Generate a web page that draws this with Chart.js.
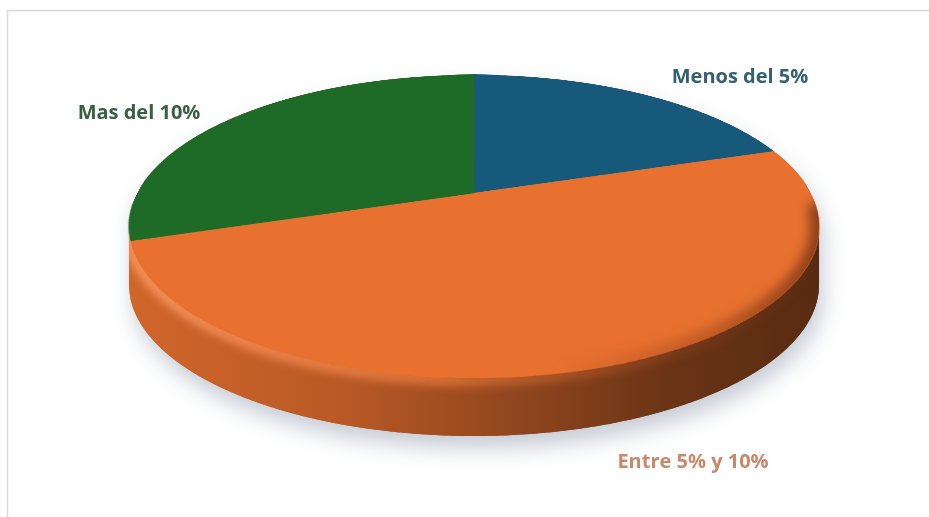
<!DOCTYPE html>
<html>
<head>
<meta charset="utf-8">
<title>Rentabilidad</title>
<script src="https://cdn.jsdelivr.net/npm/chart.js@4.4.1/dist/chart.umd.min.js"></script>
<style>
  html, body { margin: 0; padding: 0; background: #fff; }
  #view { display: block; }
  #flat { position: absolute; left: -3000px; top: 0; }
</style>
</head>
<body>
<canvas id="view" width="929" height="517"></canvas>
<div id="flat"><canvas id="pie" width="640" height="640"></canvas></div>
<script>
const categories = ['Menos del 5%', 'Entre 5% y 10%', 'Mas del 10%'];
const shares = [20, 50, 30];
const sliceColors = ['#16597b', '#e8712f', '#1d6b27'];
const labelColors = ['#35606f', '#c98869', '#395f41'];

// tilted disc: centre, radii, perspective factor, thickness
const tilt = { cx: 474, cy: 193, a: 336.5, b: 144.1, p: 0.221, depth: 58 };
const phiMin = Math.asin(tilt.p);
const phiMax = Math.PI - phiMin;

const view = document.getElementById('view');
const vctx = view.getContext('2d');

// canvas angle of the flat pie -> point on the tilted rim
function project(phi) {
  const u = Math.cos(phi), v = -Math.sin(phi);
  const k = 1 + tilt.p * v;
  return [tilt.cx + tilt.a * u / k, tilt.cy - tilt.b * v / k];
}

function shade(hex, f, alpha) {
  const n = parseInt(hex.slice(1), 16);
  const r = Math.round(((n >> 16) & 255) * f);
  const g = Math.round(((n >> 8) & 255) * f);
  const b = Math.round((n & 255) * f);
  return 'rgba(' + r + ',' + g + ',' + b + ',' + (alpha == null ? 1 : alpha) + ')';
}

function edgePath(ctx, from, to, dy, move) {
  const steps = Math.max(2, Math.ceil(Math.abs(to - from) / 0.01));
  for (let i = 0; i <= steps; i++) {
    const pt = project(from + (to - from) * i / steps);
    if (i === 0 && move) ctx.moveTo(pt[0], pt[1] + dy);
    else ctx.lineTo(pt[0], pt[1] + dy);
  }
}

function sidePath(ctx, lo, hi) {
  ctx.beginPath();
  edgePath(ctx, lo, hi, 0, true);
  edgePath(ctx, hi, lo, tilt.depth, false);
  ctx.closePath();
}

function wallGradient(color) {
  const left = tilt.cx - tilt.a * 1.03, right = tilt.cx + tilt.a * 1.03;
  const g = vctx.createLinearGradient(left, 0, right, 0);
  g.addColorStop(0, shade(color, 0.9));
  g.addColorStop(0.3, shade(color, 0.8));
  g.addColorStop(0.55, shade(color, 0.63));
  g.addColorStop(0.78, shade(color, 0.46));
  g.addColorStop(1, shade(color, 0.38));
  return g;
}

// squash the flat pie row by row into the tilted top face
function drawTop(src, arc) {
  const R = arc.outerRadius, sx = arc.x, sy = arc.y;
  const top = tilt.cy - tilt.b / (1 + tilt.p);
  const bottom = tilt.cy + tilt.b / (1 - tilt.p);
  const vAt = Y => { const t = (tilt.cy - Y) / tilt.b; return t / (1 - tilt.p * t); };
  for (let Y = Math.floor(top); Y < Math.ceil(bottom); Y++) {
    const v0 = Math.min(1, vAt(Y)), v1 = Math.max(-1, vAt(Y + 1));
    if (v0 <= v1) continue;
    const f = 1 / (1 + tilt.p * (v0 + v1) / 2);
    vctx.drawImage(src, sx - R, sy - R * v0, 2 * R, R * (v0 - v1),
      tilt.cx - tilt.a * f, Y, 2 * tilt.a * f, 1);
  }
}

function compose(chart) {
  const arcs = chart.getDatasetMeta(0).data;
  if (!arcs.length) return;
  vctx.setTransform(1, 0, 0, 1, 0, 0);
  vctx.fillStyle = '#fff';
  vctx.fillRect(0, 0, view.width, view.height);

  // chart area frame
  vctx.strokeStyle = '#d8d8d8';
  vctx.lineWidth = 1.5;
  vctx.beginPath();
  vctx.moveTo(7.5, 530);
  vctx.lineTo(7.5, 10.5);
  vctx.lineTo(940, 10.5);
  vctx.stroke();

  // slice that owns most of the front wall
  let main = 0, best = -1;
  arcs.forEach((arc, i) => {
    const span = Math.min(arc.endAngle, phiMax) - Math.max(arc.startAngle, phiMin);
    if (span > best) { best = span; main = i; }
  });

  // whole disc outline with a soft drop shadow
  vctx.save();
  vctx.shadowColor = 'rgba(95,110,135,0.36)';
  vctx.shadowBlur = 22;
  vctx.shadowOffsetX = 4;
  vctx.shadowOffsetY = 12;
  vctx.fillStyle = wallGradient(sliceColors[main]);
  vctx.beginPath();
  edgePath(vctx, phiMin, phiMax, tilt.depth, true);
  edgePath(vctx, phiMax, phiMin + 2 * Math.PI, 0, false);
  vctx.closePath();
  vctx.fill();
  vctx.restore();

  // front wall of each slice (edge-on slivers are skipped)
  arcs.forEach((arc, i) => {
    const lo = Math.max(arc.startAngle, phiMin);
    const hi = Math.min(arc.endAngle, phiMax);
    if (hi - lo < 0.1) return;
    vctx.fillStyle = wallGradient(sliceColors[i]);
    sidePath(vctx, lo, hi);
    vctx.fill();
  });

  drawTop(chart.canvas, arcs[0]);

  // rounded rim where the top meets the wall
  vctx.save();
  sidePath(vctx, phiMin, phiMax);
  vctx.clip();
  vctx.filter = 'blur(4px)';
  const left = tilt.cx - tilt.a * 1.03, right = tilt.cx + tilt.a * 1.03;
  const rim = vctx.createLinearGradient(left, 0, right, 0);
  rim.addColorStop(0, 'rgba(247,150,95,0.95)');
  rim.addColorStop(0.45, 'rgba(238,125,62,0.75)');
  rim.addColorStop(0.8, 'rgba(190,85,35,0.2)');
  rim.addColorStop(1, 'rgba(120,50,20,0)');
  vctx.strokeStyle = rim;
  vctx.lineWidth = 12;
  vctx.beginPath();
  edgePath(vctx, phiMin, phiMax, 2, true);
  vctx.stroke();
  vctx.restore();

  // top face darkens as it rolls over the right-hand rim
  vctx.save();
  vctx.beginPath();
  edgePath(vctx, 0, 2 * Math.PI, 0, true);
  vctx.closePath();
  vctx.clip();
  vctx.filter = 'blur(6px)';
  const roll = vctx.createLinearGradient(tilt.cx + 80, 0, right, 0);
  roll.addColorStop(0, 'rgba(110,45,15,0)');
  roll.addColorStop(0.6, 'rgba(110,45,15,0.35)');
  roll.addColorStop(1, 'rgba(95,40,14,0.7)');
  vctx.strokeStyle = roll;
  vctx.lineWidth = 18;
  vctx.beginPath();
  edgePath(vctx, phiMin - 0.15, Math.PI / 2, 0, true);
  vctx.stroke();
  vctx.restore();

  // slice names
  const spots = [[740, 77], [693, 462], [139, 113]];
  vctx.font = 'bold 20px "Open Sans"';
  vctx.textBaseline = 'middle';
  vctx.textAlign = 'center';
  categories.forEach((name, i) => {
    vctx.fillStyle = labelColors[i];
    vctx.fillText(name, spots[i][0], spots[i][1]);
  });
}

new Chart(document.getElementById('pie'), {
  type: 'pie',
  data: {
    labels: categories,
    datasets: [{
      data: shares,
      backgroundColor: sliceColors,
      borderColor: sliceColors,
      borderWidth: 1
    }]
  },
  options: {
    responsive: false,
    animation: false,
    devicePixelRatio: 1,
    events: [],
    layout: { padding: 2 },
    plugins: { legend: { display: false }, tooltip: { enabled: false } }
  },
  plugins: [{ id: 'tilt3d', afterRender: c => compose(c) }]
});
</script>
</body>
</html>
